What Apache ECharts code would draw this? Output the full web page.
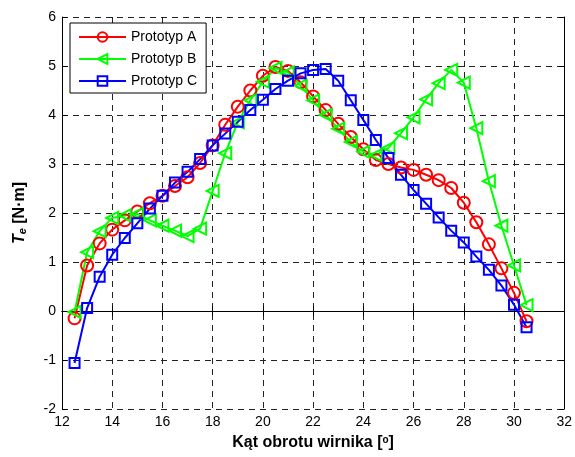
<!DOCTYPE html>
<html>
<head>
<meta charset="utf-8">
<script src="https://cdn.jsdelivr.net/npm/echarts@6/dist/echarts.min.js"></script>
<style>html,body{margin:0;padding:0;background:#fff}#c{width:575px;height:457px}</style>
</head>
<body>
<div id="c"></div>
<script>
var angles = [12.5, 13, 13.5, 14, 14.5, 15, 15.5, 16, 16.5, 17, 17.5, 18, 18.5, 19, 19.5, 20, 20.5, 21, 21.5, 22, 22.5, 23, 23.5, 24, 24.5, 25, 25.5, 26, 26.5, 27, 27.5, 28, 28.5, 29, 29.5, 30, 30.5];
var protA = [-0.15, 0.93, 1.38, 1.66, 1.85, 2.03, 2.2, 2.35, 2.55, 2.73, 3.02, 3.38, 3.8, 4.17, 4.5, 4.8, 4.98, 4.9, 4.67, 4.38, 4.1, 3.82, 3.55, 3.3, 3.08, 3.0, 2.93, 2.88, 2.78, 2.67, 2.51, 2.21, 1.81, 1.36, 0.87, 0.37, -0.21];
var protB = [-0.02, 1.2, 1.63, 1.9, 1.95, 1.98, 1.85, 1.74, 1.64, 1.53, 1.68, 2.45, 3.22, 3.85, 4.3, 4.68, 4.96, 4.87, 4.6, 4.3, 4.0, 3.72, 3.45, 3.25, 3.18, 3.33, 3.63, 3.95, 4.32, 4.65, 4.92, 4.66, 3.73, 2.65, 1.74, 0.93, 0.12];
var protC = [-1.06, 0.06, 0.7, 1.15, 1.49, 1.79, 2.09, 2.35, 2.62, 2.84, 3.1, 3.38, 3.62, 3.86, 4.1, 4.31, 4.53, 4.7, 4.85, 4.92, 4.94, 4.7, 4.3, 3.9, 3.49, 3.12, 2.78, 2.47, 2.19, 1.91, 1.64, 1.4, 1.11, 0.84, 0.52, 0.13, -0.33];
var seriesNames = ['Prototyp A', 'Prototyp B', 'Prototyp C'];
var xTicks = {min: 12, max: 32, step: 2};
var yTicks = {min: -2, max: 6, step: 1};

function pairs(ys) { return angles.map(function (a, i) { return [a, ys[i]]; }); }

var FONT = 'Arial, "Liberation Sans", sans-serif';
var chart = echarts.init(document.getElementById('c'), null, {renderer: 'canvas'});
var gridLine = {show: true, lineStyle: {color: '#222', width: 1, type: [6, 5]}};
var baseAxisLine = {show: true, lineStyle: {color: '#000', width: 1}};
var tick = {show: true, inside: true, length: 5, lineStyle: {color: '#000'}};

function mkSeries(name, data, color, symbol, size, rot) {
  return {
    name: name, type: 'line', data: pairs(data),
    symbol: symbol, symbolSize: size, symbolRotate: rot || 0, showAllSymbol: true,
    lineStyle: {color: color, width: 2},
    itemStyle: {color: 'rgba(255,255,255,0)', borderColor: color, borderWidth: 2},
    emphasis: {disabled: true}, animation: false
  };
}

chart.setOption({
  animation: false,
  backgroundColor: '#fff',
  textStyle: {fontFamily: FONT},
  grid: {left: 62, right: 8, top: 17, bottom: 48, containLabel: false},
  legend: {
    left: 70, top: 23, orient: 'vertical',
    backgroundColor: '#fff', borderColor: '#000', borderWidth: 1,
    padding: [7, 9, 5, 8], itemGap: 8, itemWidth: 47, itemHeight: 12,
    textStyle: {fontSize: 14, color: '#000', fontFamily: FONT},
    data: seriesNames
  },
  xAxis: [{
    type: 'value', min: xTicks.min, max: xTicks.max, interval: xTicks.step,
    axisLine: baseAxisLine, axisTick: tick, splitLine: gridLine,
    axisLabel: {color: '#000', fontSize: 14, margin: 6, fontFamily: FONT},
    name: '{a|Kąt obrotu wirnika [}{s|o}{a|]}', nameLocation: 'middle', nameGap: 26,
    nameTextStyle: {rich: {
      a: {fontSize: 16, fontWeight: 'bold', color: '#000', fontFamily: FONT},
      s: {fontSize: 10, fontWeight: 'bold', color: '#000', fontFamily: FONT, verticalAlign: 'top', padding: [0, 0, 6, 0]}
    }}
  }, {
    type: 'value', position: 'top', min: xTicks.min, max: xTicks.max, interval: xTicks.step,
    axisLine: baseAxisLine, axisTick: tick, axisLabel: {show: false}, splitLine: {show: false}
  }],
  yAxis: [{
    type: 'value', min: yTicks.min, max: yTicks.max, interval: yTicks.step,
    axisLine: baseAxisLine, axisTick: tick, splitLine: gridLine,
    axisLabel: {color: '#000', fontSize: 14, margin: 6, fontFamily: FONT},
    name: '{t|T}{e|e}{a| [N·m]}', nameLocation: 'middle', nameGap: 34,
    nameTextStyle: {rich: {
      t: {fontSize: 16, fontWeight: 'bold', fontStyle: 'italic', color: '#000', fontFamily: FONT},
      e: {fontSize: 11, fontWeight: 'bold', fontStyle: 'italic', color: '#000', fontFamily: FONT, padding: [6, 0, 0, 0]},
      a: {fontSize: 16, fontWeight: 'bold', color: '#000', fontFamily: FONT}
    }}
  }, {
    type: 'value', position: 'right', min: yTicks.min, max: yTicks.max, interval: yTicks.step,
    axisLine: baseAxisLine, axisTick: tick, axisLabel: {show: false}, splitLine: {show: false}
  }],
  series: [
    mkSeries(seriesNames[0], protA, '#ff0000', 'circle', 12, 0),
    mkSeries(seriesNames[1], protB, '#00ff00', 'triangle', 12, 90),
    mkSeries(seriesNames[2], protC, '#0000ff', 'rect', 10, 0)
  ]
});
</script>
</body>
</html>
